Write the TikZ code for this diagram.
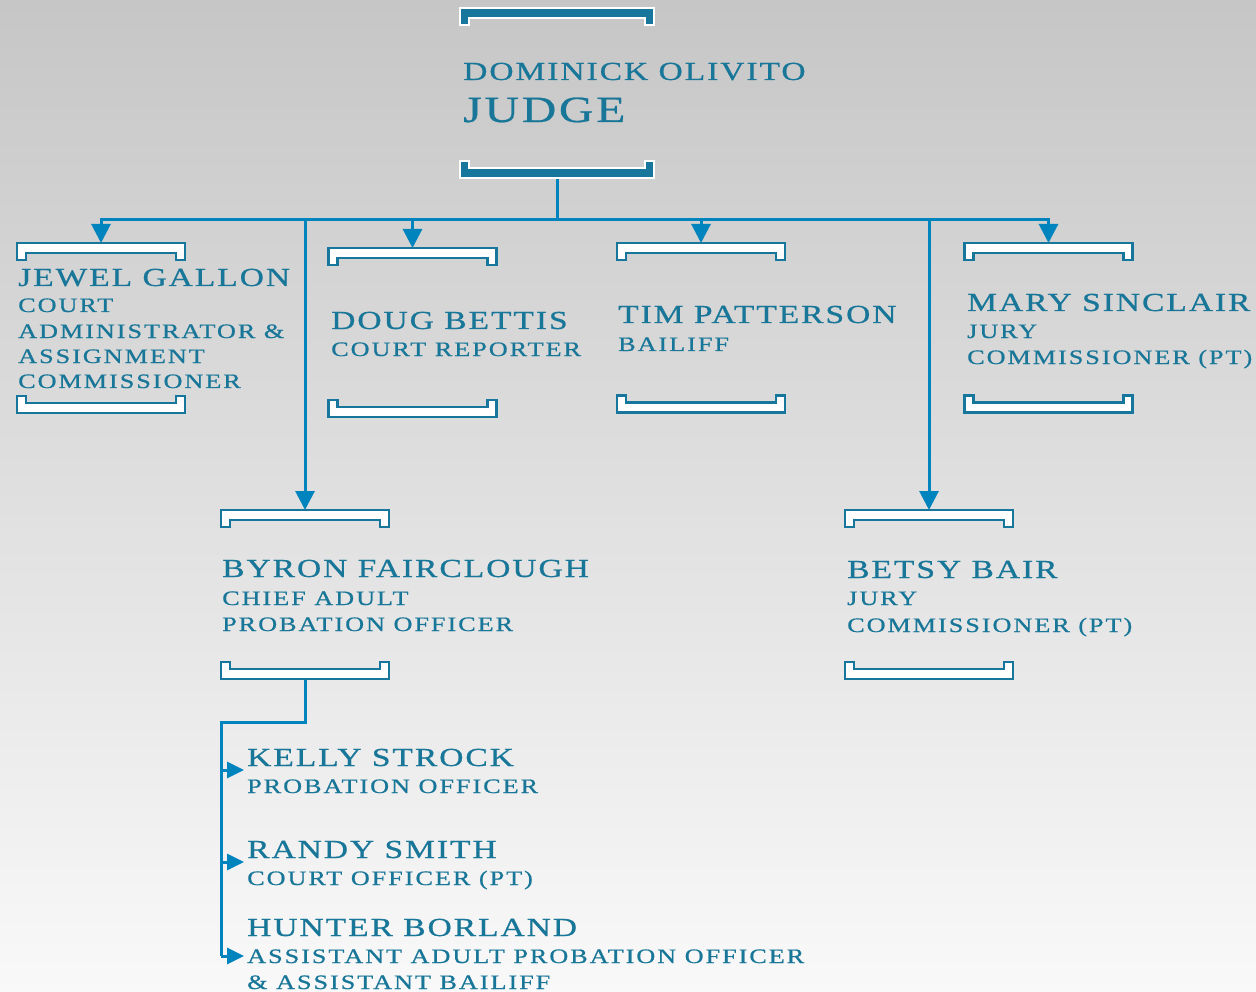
\documentclass[tikz,border=0pt]{standalone}
\usepackage{fontspec}
\usetikzlibrary{arrows.meta,calc}
\newfontfamily\cpf[FakeStretch=1.29,LetterSpace=7.5,FakeBold=0.7]{Liberation Serif}
\newfontfamily\cps[FakeStretch=1.28,LetterSpace=9.5,FakeBold=0.7]{Liberation Serif}
\definecolor{txt}{RGB}{24,118,152}
\definecolor{conn}{RGB}{0,132,190}
\definecolor{brk}{RGB}{22,118,156}
\definecolor{bgtop}{RGB}{198,198,198}
\definecolor{bgbot}{RGB}{249,249,249}
\tikzset{
 brnode/.style={minimum width=168pt,minimum height=17pt,inner sep=0pt,outer sep=0pt},
 jbrnode/.style={minimum width=194pt,minimum height=17pt,inner sep=0pt,outer sep=0pt},
 brline/.style={draw=brk,fill=white,line width=2.2pt,line join=miter},
 jbr/.style={draw=white,fill=brk,line width=2.2pt,line join=miter},
 cline/.style={draw=conn,line width=3pt},
 carr/.style={cline,-{Triangle[length=19pt,width=19pt]}},
 sarr/.style={cline,-{Triangle[length=17pt,width=16pt]}},
 nm/.style={anchor=base west,inner sep=0pt,text=txt,font=\cpf\fontsize{26}{28}\selectfont},
 sb/.style={anchor=base west,inner sep=0pt,text=txt,font=\cps\fontsize{20.5}{22}\selectfont},
 big/.style={anchor=base west,inner sep=0pt,text=txt,font=\cpf\fontsize{37}{40}\selectfont},
}
\newcommand\mytopbr[2][brline]{\path[#1] (#2.south west) -- (#2.north west) -- (#2.north east) -- (#2.south east) -- ($(#2.south east)+(-9,0)$) -- ($(#2.north east)+(-9,10)$) -- ($(#2.north west)+(9,10)$) -- ($(#2.south west)+(9,0)$) -- cycle;}
\newcommand\mybotbr[2][brline]{\path[#1] (#2.north west) -- (#2.south west) -- (#2.south east) -- (#2.north east) -- ($(#2.north east)+(-9,0)$) -- ($(#2.south east)+(-9,-10)$) -- ($(#2.south west)+(9,-10)$) -- ($(#2.north west)+(9,0)$) -- cycle;}
\begin{document}
\begin{tikzpicture}[x=1pt,y=-1pt]
\shade[top color=bgtop,bottom color=bgbot] (0,0) rectangle (1256,992);
\useasboundingbox (0,0) rectangle (1256,992);

% bracket nodes
\node[jbrnode] (judgeT) at (557,16.5) {};
\node[jbrnode] (judgeB) at (557,169.5) {};
\node[brnode] (jewelT) at (101,251.5) {};
\node[brnode] (jewelB) at (101,404.5) {};
\node[brnode] (dougT) at (412.5,256.5) {};
\node[brnode] (dougB) at (412.5,408.5) {};
\node[brnode] (timT) at (701,251.5) {};
\node[brnode] (timB) at (701,404) {};
\node[brnode] (maryT) at (1048.5,251.5) {};
\node[brnode] (maryB) at (1048.5,404) {};
\node[brnode] (byronT) at (305,518.5) {};
\node[brnode] (byronB) at (305,670.5) {};
\node[brnode] (betsyT) at (929,518.5) {};
\node[brnode] (betsyB) at (929,670.5) {};

% connectors
\coordinate (bus) at (557,220);
\coordinate (sub) at (221,722);
\coordinate (kellyA) at (244,770);
\coordinate (randyA) at (244,862);
\coordinate (hunterA) at (244,956);
\draw[cline] (judgeB.south) -- (bus);
\draw[cline,line cap=rect] (jewelT.north |- bus) -- (maryT.north |- bus);
\draw[carr] (jewelT.north |- bus) -- (jewelT.north);
\draw[carr] (dougT.north |- bus) -- (dougT.north);
\draw[carr] (timT.north |- bus) -- (timT.north);
\draw[carr] (maryT.north |- bus) -- (maryT.north);
\draw[carr] (byronT.north |- bus) -- (byronT.north);
\draw[carr] (betsyT.north |- bus) -- (betsyT.north);
\draw[cline,line join=miter] (byronB.south) |- (sub) -- (sub |- hunterA);
\draw[sarr] (sub |- kellyA) -- (kellyA);
\draw[sarr] (sub |- randyA) -- (randyA);
\draw[sarr] (sub |- hunterA) -- (hunterA);

% brackets
\mytopbr[jbr]{judgeT}
\mybotbr[jbr]{judgeB}
\mytopbr{jewelT}\mybotbr{jewelB}
\mytopbr{dougT}\mybotbr{dougB}
\mytopbr{timT}\mybotbr{timB}
\mytopbr{maryT}\mybotbr{maryB}
\mytopbr{byronT}\mybotbr{byronB}
\mytopbr{betsyT}\mybotbr{betsyB}

% texts
\node[nm] (judgeN) at (463,80) {DOMINICK OLIVITO};
\node[big] (judgeS) at (463,122) {JUDGE};

\node[nm] (jewelN) at (18,286) {JEWEL GALLON};
\node[sb] (jewelS1) at (18,312) {COURT};
\node[sb] (jewelS2) at (18,338) {ADMINISTRATOR \&};
\node[sb] (jewelS3) at (18,363) {ASSIGNMENT};
\node[sb] (jewelS4) at (18,388) {COMMISSIONER};

\node[nm] (dougN) at (331,329) {DOUG BETTIS};
\node[sb] (dougS1) at (331,356) {COURT REPORTER};

\node[nm] (timN) at (618,323) {TIM PATTERSON};
\node[sb] (timS1) at (618,351) {BAILIFF};

\node[nm] (maryN) at (967,311) {MARY SINCLAIR};
\node[sb] (maryS1) at (967,338) {JURY};
\node[sb] (maryS2) at (967,364) {COMMISSIONER (PT)};

\node[nm] (byronN) at (222,577) {BYRON FAIRCLOUGH};
\node[sb] (byronS1) at (222,605) {CHIEF ADULT};
\node[sb] (byronS2) at (222,631) {PROBATION OFFICER};

\node[nm] (betsyN) at (847,578) {BETSY BAIR};
\node[sb] (betsyS1) at (847,605) {JURY};
\node[sb] (betsyS2) at (847,632) {COMMISSIONER (PT)};

\node[nm] (kellyN) at (247,766) {KELLY STROCK};
\node[sb] (kellyS1) at (247,793) {PROBATION OFFICER};

\node[nm] (randyN) at (247,858) {RANDY SMITH};
\node[sb] (randyS1) at (247,885) {COURT OFFICER (PT)};

\node[nm] (hunterN) at (247,936) {HUNTER BORLAND};
\node[sb] (hunterS1) at (247,963) {ASSISTANT ADULT PROBATION OFFICER};
\node[sb] (hunterS2) at (247,989) {\& ASSISTANT BAILIFF};
\end{tikzpicture}
\end{document}
